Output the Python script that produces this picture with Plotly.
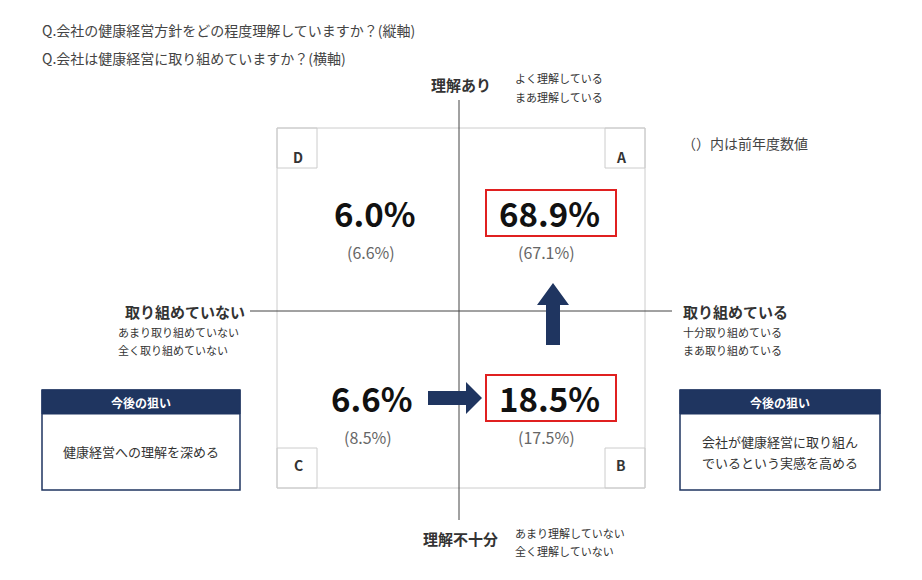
import plotly.graph_objects as go

quadrants = ["A", "B", "C", "D"]
current = ["68.9%", "18.5%", "6.6%", "6.0%"]
previous = ["(67.1%)", "(17.5%)", "(8.5%)", "(6.6%)"]
qx = [549, 549, 371, 374]
qy = [213, 398, 398, 213]

F = "Noto Sans CJK JP"
NAVY = "#1f3560"
fig = go.Figure()
shapes = []
ann = []

def text(x, y, t, size=12, color="#333", bold=False, xanchor="center"):
    ann.append(dict(x=x, y=y, text=f"<b>{t}</b>" if bold else t, showarrow=False,
                    font=dict(size=size, color=color, family=F), xanchor=xanchor, yanchor="middle"))

def rect(x0, y0, x1, y1, line="#ccc", fill=None, w=1):
    shapes.append(dict(type="rect", x0=x0, y0=y0, x1=x1, y1=y1,
                       line=dict(color=line, width=w), fillcolor=fill or "rgba(0,0,0,0)"))

text(40, 30, "Q.会社の健康経営方針をどの程度理解していますか？(縦軸)", 14, "#444", xanchor="left")
text(40, 58, "Q.会社は健康経営に取り組めていますか？(横軸)", 14, "#444", xanchor="left")

rect(277, 128, 645, 488)
for (x0, y0) in [(277, 128), (605, 128), (277, 448), (605, 448)]:
    rect(x0, y0, x0 + 40, y0 + 40)
text(298, 157, "D", 14, "#333", True)
text(621, 157, "A", 14, "#333", True)
text(298, 465, "C", 14, "#333", True)
text(621, 465, "B", 14, "#333", True)

shapes.append(dict(type="line", x0=459, x1=459, y0=100, y1=520, line=dict(color="#444", width=1)))
shapes.append(dict(type="line", x0=250, x1=672, y0=311, y1=311, line=dict(color="#444", width=1)))

for q, c, p, x, y in zip(quadrants, current, previous, qx, qy):
    text(x, y, c, 33, "#111", True)
    text(x - 3, y + 39, p, 16, "#666")
    if q in ("A", "B"):
        rect(486, y - 23, 616, y + 23, line="#e02020", w=2)

shapes.append(dict(type="path", path="M428,391 L466,391 L466,382 L482,398 L466,414 L466,405 L428,405 Z",
                   fillcolor=NAVY, line=dict(width=0)))
shapes.append(dict(type="path", path="M546,345 L546,305 L537,305 L553,283 L569,305 L560,305 L560,345 Z",
                   fillcolor=NAVY, line=dict(width=0)))

text(461, 84, "理解あり", 15, "#333", True)
text(513, 78, "よく理解している", 11, "#333", xanchor="left")
text(513, 97, "まあ理解している", 11, "#333", xanchor="left")
text(460, 538, "理解不十分", 15, "#333", True)
text(513, 533, "あまり理解していない", 11, "#333", xanchor="left")
text(513, 551, "全く理解していない", 11, "#333", xanchor="left")
text(185, 311, "取り組めていない", 15, "#333", True)
text(116, 332, "あまり取り組めていない", 11, "#333", xanchor="left")
text(116, 350, "全く取り組めていない", 11, "#333", xanchor="left")
text(735, 311, "取り組めている", 15, "#333", True)
text(681, 332, "十分取り組めている", 11, "#333", xanchor="left")
text(681, 350, "まあ取り組めている", 11, "#333", xanchor="left")
text(680, 143, "（）内は前年度数値", 14, "#444", xanchor="left")

for x0, x1, lines in [(42, 240, ["健康経営への理解を深める"]),
                      (680, 880, ["会社が健康経営に取り組ん", "でいるという実感を高める"])]:
    rect(x0, 390, x1, 490, line=NAVY, w=1.5)
    rect(x0, 390, x1, 414, line=NAVY, fill=NAVY)
    cx = (x0 + x1) / 2
    text(cx, 402, "今後の狙い", 12, "white", True)
    if len(lines) == 1:
        text(cx, 451, lines[0], 13, "#333")
    else:
        text(cx, 441, lines[0], 13, "#333")
        text(cx, 462, lines[1], 13, "#333")

fig.add_trace(go.Scatter(x=[8, 900], y=[8, 570], mode="markers", marker=dict(opacity=0), hoverinfo="skip"))
fig.update_layout(width=922, height=580, margin=dict(l=0, r=0, t=0, b=0),
                  plot_bgcolor="white", paper_bgcolor="white", showlegend=False,
                  xaxis=dict(range=[8, 930], visible=False, fixedrange=True),
                  yaxis=dict(range=[588, 8], visible=False, fixedrange=True),
                  shapes=shapes, annotations=ann, font=dict(family=F))
fig.write_html("out.html")
